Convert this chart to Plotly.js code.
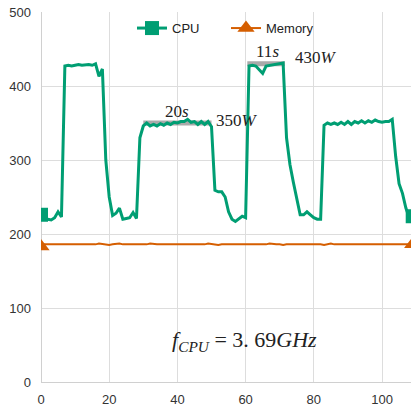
<!DOCTYPE html>
<html>
<head>
<meta charset="utf-8">
<script src="https://cdn.plot.ly/plotly-3.0.1.min.js"></script>
<style>html,body{margin:0;padding:0;background:#fff;}#chart{width:411px;height:406px;}</style>
</head>
<body>
<div id="chart"></div>
<script>
// Time in seconds (one sample per second)
const time = Array.from({length: 110}, (_, i) => i);

// CPU power (W)
const cpuPower = [
  226,220,220,219,222,230,223,427,428,427,
  428,429,428,429,429,428,430,413,423,300,
  250,225,228,235,220,221,222,229,221,330,
  346,350,346,348,346,349,347,350,348,351,
  350,352,352,355,351,352,348,352,348,352,
  345,259,257,257,250,230,220,217,220,224,
  222,427,428,427,422,417,427,428,428,429,
  430,431,330,294,270,248,226,226,230,226,
  222,220,220,347,350,348,350,348,351,348,
  352,348,352,350,353,350,353,351,354,352,
  351,352,352,355,305,268,255,235,222,224
];

// Memory power (W)
const memPower = [
  183,186,186,186,186,185,186,186,186,186,
  185,186,186,186,185,186,186,187,186,186,
  185,186,187,187,186,186,186,186,185,186,
  186,186,187,186,186,186,186,185,185,186,
  186,186,186,185,186,186,186,186,186,187,
  186,186,185,186,186,186,186,186,186,186,
  186,186,186,186,185,186,186,187,186,186,
  186,185,186,186,187,186,186,186,186,186,
  187,186,186,185,186,187,186,186,186,186,
  186,185,185,185,185,185,185,186,186,186,
  186,185,186,186,186,186,185,186,186,186
];

// Highlighted plateaus
const band20sX = [30, 50];
const band20sY = [350, 350];
const band11sX = [60.5, 71.5];
const band11sY = [430, 430];

// Annotation labels
const labelX = [40, 57.5, 66.4, 80.5, 59.6];
const labelY = [366, 353, 447, 438, 55];
const labelText = [
  '20<i>s</i>',
  '350<i>W</i>',
  '11<i>s</i>',
  '430<i>W</i>',
  '<i>f</i><sub><i>CPU</i></sub> = 3. 69<i>GHz</i>'
];

const green = '#009e73';
const orange = '#d55e00';
const lastIdx = time.length - 1;

const traces = [
  {x: band20sX, y: band20sY, mode: 'lines', line: {color: '#aaaaaa', width: 5}, showlegend: false, hoverinfo: 'skip'},
  {x: band11sX, y: band11sY, mode: 'lines', line: {color: '#aaaaaa', width: 5}, showlegend: false, hoverinfo: 'skip'},
  {x: time, y: cpuPower, name: 'CPU', mode: 'lines+markers',
   line: {color: green, width: 3},
   marker: {symbol: 'square', size: 14, color: green},
   selectedpoints: [0, lastIdx], unselected: {marker: {opacity: 0}}, selected: {marker: {opacity: 1}}},
  {x: time, y: memPower, name: 'Memory', mode: 'lines+markers',
   line: {color: orange, width: 2},
   marker: {symbol: 'triangle-up', size: 15, color: orange},
   selectedpoints: [0, lastIdx], unselected: {marker: {opacity: 0}}, selected: {marker: {opacity: 1}}}
];

const mathFont = {family: 'Liberation Serif, DejaVu Serif, serif', color: '#222'};

const annotations = labelText.map((t, i) => ({
  x: labelX[i], y: labelY[i], xref: 'x', yref: 'y', text: t, showarrow: false,
  font: Object.assign({}, mathFont, {size: i === 4 ? 22 : 17})
}));

const layout = {
  width: 411, height: 406,
  margin: {l: 41, r: 0, t: 12, b: 24},
  paper_bgcolor: '#fff', plot_bgcolor: '#fff',
  font: {family: 'Liberation Sans, Arial, sans-serif', size: 13, color: '#333'},
  xaxis: {range: [0, 108.5], dtick: 20, tick0: 0, showgrid: true, gridcolor: '#dddddd', gridwidth: 1,
          zeroline: true, zerolinecolor: '#d0d0d0', zerolinewidth: 1, showline: false, ticks: '',
          ticklabelstandoff: 8, fixedrange: true},
  yaxis: {range: [0, 500], dtick: 100, tick0: 0, showgrid: true, gridcolor: '#dddddd', gridwidth: 1,
          zeroline: true, zerolinecolor: '#d0d0d0', zerolinewidth: 1, showline: false, ticks: '',
          ticklabelstandoff: 9, fixedrange: true},
  showlegend: true,
  legend: {orientation: 'h', x: 0.5, xanchor: 'center', y: 0.997, yanchor: 'top', bgcolor: 'rgba(0,0,0,0)',
           entrywidth: 49, entrywidthmode: 'pixels',
           font: {size: 13, color: '#222'}},
  annotations: annotations
};

Plotly.newPlot('chart', traces, layout, {displayModeBar: false, staticPlot: true});
</script>
</body>
</html>
